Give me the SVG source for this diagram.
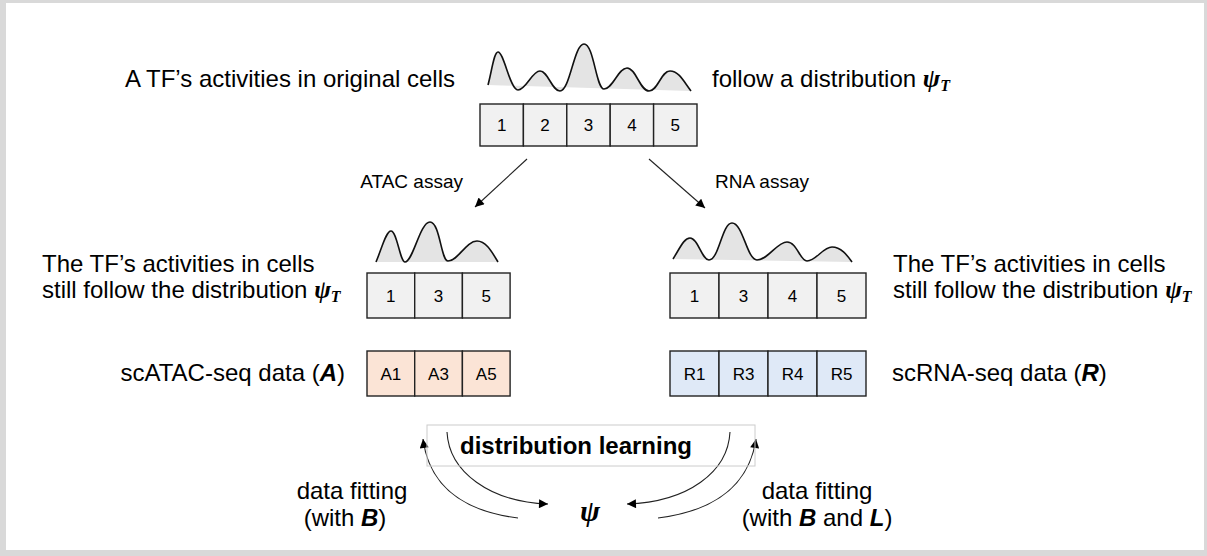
<svg xmlns="http://www.w3.org/2000/svg" width="1207" height="556" viewBox="0 0 1207 556">
<style>
  .t { font-family: "Liberation Sans", Arial, sans-serif; font-size: 24px; fill: #000; }
  .s { font-family: "Liberation Sans", Arial, sans-serif; font-size: 19px; fill: #000; }
  .c { font-family: "Liberation Sans", Arial, sans-serif; font-size: 17px; fill: #000; text-anchor: middle; }
  .g { font-family: "Liberation Serif", "DejaVu Serif", serif; font-weight: bold; font-style: italic; }
  .bi { font-weight: bold; font-style: italic; }
  .cell { fill: #f1f1f1; stroke: #222; stroke-width: 1.4; }
  .cellA { fill: #fbe4d6; stroke: #222; stroke-width: 1.4; }
  .cellR { fill: #dfe9f7; stroke: #222; stroke-width: 1.4; }
  .dfill { fill: #e4e4e4; stroke: none; }
  .dline { fill: none; stroke: #111; stroke-width: 1.6; }
  .conn { fill: none; stroke: #222; stroke-width: 1.1; }
</style>
<defs>
  <marker id="ah" viewBox="0 0 10 10" refX="10" refY="5" markerWidth="11" markerHeight="9" markerUnits="userSpaceOnUse" orient="auto">
    <path d="M0,0 L10,5 L0,10 Z" fill="#000"/>
  </marker>
</defs>

<rect x="0" y="0" width="1207" height="556" fill="#d9d9d9"/>
<rect x="6" y="3" width="1198" height="547" fill="#ffffff"/>

<g id="top-label-left"><text class="t" x="455" y="87" text-anchor="end">A TF’s activities in original cells</text></g>
<g id="top-label-right"><text class="t" x="712" y="87">follow a distribution <tspan class="g" font-size="26">ψ</tspan><tspan class="g" font-size="16" dy="4">T</tspan></text></g>

<g id="top-dist">
  <path class="dfill" d="M488,85 C492,70 494,52 498,52 C504,52 510,90 518,90 C526,90 532,71 540,71 C548,71 552,91 560,91 C570,91 574,44 584,44 C594,44 596,89 604,89 C613,89 618,68 627,68 C636,68 640,91 649,91 C658,91 661,71 670,71 C679,71 684,82 691,91 Z"/>
  <path class="dline" d="M488,85 C492,70 494,52 498,52 C504,52 510,90 518,90 C526,90 532,71 540,71 C548,71 552,91 560,91 C570,91 574,44 584,44 C594,44 596,89 604,89 C613,89 618,68 627,68 C636,68 640,91 649,91 C658,91 661,71 670,71 C679,71 684,82 691,91"/>
</g>

<g id="top-cells">
  <rect class="cell" x="480" y="104" width="43.4" height="42"/>
  <rect class="cell" x="523.4" y="104" width="43.4" height="42"/>
  <rect class="cell" x="566.8" y="104" width="43.4" height="42"/>
  <rect class="cell" x="610.2" y="104" width="43.4" height="42"/>
  <rect class="cell" x="653.6" y="104" width="43.4" height="42"/>
  <text class="c" x="501.7" y="131">1</text>
  <text class="c" x="545.1" y="131">2</text>
  <text class="c" x="588.5" y="131">3</text>
  <text class="c" x="631.9" y="131">4</text>
  <text class="c" x="675.3" y="131">5</text>
</g>

<g id="connectors">
  <line class="conn" x1="527" y1="159" x2="475" y2="207" marker-end="url(#ah)"/>
  <line class="conn" x1="649" y1="159" x2="705" y2="208" marker-end="url(#ah)"/>
  <path class="conn" d="M518,518 C470,512 430,492 423,439" marker-end="url(#ah)"/>
  <path class="conn" d="M447,432 C449,472 490,502 548,504" marker-end="url(#ah)"/>
  <path class="conn" d="M730,432 C728,472 688,502 627,504" marker-end="url(#ah)"/>
  <path class="conn" d="M658,518 C706,512 748,492 756,439" marker-end="url(#ah)"/>
</g>

<g id="label-atac"><text class="s" x="463" y="188" text-anchor="end">ATAC assay</text></g>
<g id="label-rna"><text class="s" x="715" y="188">RNA assay</text></g>

<g id="left-text">
  <text class="t" x="42" y="272">The TF’s activities in cells</text>
  <text class="t" x="42" y="298">still follow the distribution <tspan class="g" font-size="25">ψ</tspan><tspan class="g" font-size="16" dy="4">T</tspan></text>
</g>
<g id="right-text">
  <text class="t" x="893" y="272">The TF’s activities in cells</text>
  <text class="t" x="893" y="298">still follow the distribution <tspan class="g" font-size="25">ψ</tspan><tspan class="g" font-size="16" dy="4">T</tspan></text>
</g>

<g id="left-dist">
  <path class="dfill" d="M376,262 C382,248 386,231 391,231 C397,231 400,262 405,262 C413,262 420,222 430,222 C440,222 441,261 448,261 C458,261 466,241 477,241 C486,241 492,252 498,262 Z"/>
  <path class="dline" d="M376,262 C382,248 386,231 391,231 C397,231 400,262 405,262 C413,262 420,222 430,222 C440,222 441,261 448,261 C458,261 466,241 477,241 C486,241 492,252 498,262"/>
</g>
<g id="right-dist">
  <path class="dfill" d="M673,259 C680,248 684,238 690,238 C698,238 702,260 709,260 C719,260 722,223 732,223 C743,223 747,260 757,260 C768,260 777,242 787,242 C797,242 800,261 807,261 C816,261 823,247 832,247 C841,247 847,255 852,262 Z"/>
  <path class="dline" d="M673,259 C680,248 684,238 690,238 C698,238 702,260 709,260 C719,260 722,223 732,223 C743,223 747,260 757,260 C768,260 777,242 787,242 C797,242 800,261 807,261 C816,261 823,247 832,247 C841,247 847,255 852,262"/>
</g>

<g id="left-cells">
  <rect class="cell" x="367" y="273" width="47.7" height="45"/>
  <rect class="cell" x="414.7" y="273" width="47.7" height="45"/>
  <rect class="cell" x="462.4" y="273" width="47.7" height="45"/>
  <text class="c" x="390.8" y="302">1</text>
  <text class="c" x="438.5" y="302">3</text>
  <text class="c" x="486.2" y="302">5</text>
</g>
<g id="right-cells">
  <rect class="cell" x="670" y="273" width="49" height="45"/>
  <rect class="cell" x="719" y="273" width="49" height="45"/>
  <rect class="cell" x="768" y="273" width="49" height="45"/>
  <rect class="cell" x="817" y="273" width="49" height="45"/>
  <text class="c" x="694.5" y="302">1</text>
  <text class="c" x="743.5" y="302">3</text>
  <text class="c" x="792.5" y="302">4</text>
  <text class="c" x="841.5" y="302">5</text>
</g>

<g id="atac-label"><text class="t" x="345" y="381" text-anchor="end">scATAC-seq data (<tspan class="bi">A</tspan>)</text></g>
<g id="atac-cells">
  <rect class="cellA" x="367" y="351" width="47.7" height="45"/>
  <rect class="cellA" x="414.7" y="351" width="47.7" height="45"/>
  <rect class="cellA" x="462.4" y="351" width="47.7" height="45"/>
  <text class="c" x="390.8" y="380">A1</text>
  <text class="c" x="438.5" y="380">A3</text>
  <text class="c" x="486.2" y="380">A5</text>
</g>
<g id="rna-cells">
  <rect class="cellR" x="670" y="351" width="49" height="45"/>
  <rect class="cellR" x="719" y="351" width="49" height="45"/>
  <rect class="cellR" x="768" y="351" width="49" height="45"/>
  <rect class="cellR" x="817" y="351" width="49" height="45"/>
  <text class="c" x="694.5" y="380">R1</text>
  <text class="c" x="743.5" y="380">R3</text>
  <text class="c" x="792.5" y="380">R4</text>
  <text class="c" x="841.5" y="380">R5</text>
</g>
<g id="rna-label"><text class="t" x="892" y="381">scRNA-seq data (<tspan class="bi">R</tspan>)</text></g>

<g id="distribution-learning">
  <rect x="427" y="425" width="328" height="41" fill="none" stroke="#cccccc" stroke-width="1"/>
  <text class="t" x="576" y="454" text-anchor="middle" font-weight="bold" font-size="25">distribution learning</text>
</g>

<g id="psi"><text class="g" x="590" y="521" text-anchor="middle" font-size="30">ψ</text></g>

<g id="fit-left">
  <text class="t" x="352" y="499" text-anchor="middle">data fitting</text>
  <text class="t" x="345" y="526" text-anchor="middle">(with <tspan class="bi">B</tspan>)</text>
</g>
<g id="fit-right">
  <text class="t" x="817" y="499" text-anchor="middle">data fitting</text>
  <text class="t" x="817" y="526" text-anchor="middle">(with <tspan class="bi">B</tspan> and <tspan class="bi">L</tspan>)</text>
</g>
</svg>
